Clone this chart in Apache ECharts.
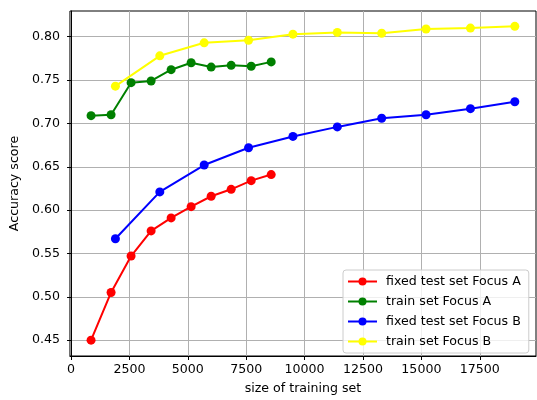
<!DOCTYPE html>
<html>
<head>
<meta charset="utf-8">
<script src="https://cdn.jsdelivr.net/npm/echarts@6/dist/echarts.min.js"></script>
<style>
  html, body { margin: 0; padding: 0; background: #fff; }
  #chart { width: 537px; height: 400px; }
</style>
</head>
<body>
<div id="chart"></div>
<script>
// training set sizes
const sizesA = [857, 1714, 2571, 3428, 4285, 5142, 5999, 6856, 7713, 8570];
const sizesB = [1900, 3800, 5700, 7600, 9500, 11400, 13300, 15200, 17100, 19000];

// accuracy scores
const fixedTestA = [0.450, 0.505, 0.547, 0.576, 0.591, 0.604, 0.616, 0.624, 0.634, 0.641];
const trainA = [0.709, 0.710, 0.747, 0.749, 0.762, 0.770, 0.765, 0.767, 0.766, 0.771];
const fixedTestB = [0.567, 0.621, 0.652, 0.672, 0.685, 0.696, 0.706, 0.710, 0.717, 0.725];
const trainB = [0.743, 0.778, 0.793, 0.796, 0.803, 0.805, 0.804, 0.809, 0.810, 0.812];

const xTicks = [0, 2500, 5000, 7500, 10000, 12500, 15000, 17500];
const yTicks = [0.45, 0.50, 0.55, 0.60, 0.65, 0.70, 0.75, 0.80];

const FONT = 'DejaVu Sans';
const FS = 12.6;

const pairs = (xs, ys) => xs.map((x, i) => [x, ys[i]]);

const makeSeries = (name, xs, ys, color) => ({
  name,
  type: 'line',
  data: pairs(xs, ys),
  symbol: 'circle',
  symbolSize: 9,
  showSymbol: true,
  itemStyle: { color },
  lineStyle: { color, width: 2 },
  emphasis: { disabled: true },
  z: 3,
});

const chart = echarts.init(document.getElementById('chart'));

chart.setOption({
  backgroundColor: '#fff',
  animation: false,
  grid: {
    left: 68, top: 11, right: 1, bottom: 40,
    show: true, borderColor: '#000', borderWidth: 1,
    containLabel: false,
  },
  xAxis: {
    type: 'value',
    min: -47,
    max: 19907,
    name: 'size of training set',
    nameLocation: 'middle',
    nameGap: 26,
    nameTextStyle: { fontFamily: FONT, fontSize: FS, color: '#000' },
    axisLine: { show: true, lineStyle: { color: '#000', width: 1 } },
    axisTick: { show: true, customValues: xTicks, length: 4, lineStyle: { color: '#000' } },
    axisLabel: {
      customValues: xTicks,
      formatter: (v) => String(v),
      fontFamily: FONT,
      fontSize: FS,
      color: '#000',
      margin: 7,
    },
    splitLine: { show: true, lineStyle: { color: '#b0b0b0', width: 1 } },
  },
  yAxis: {
    type: 'value',
    min: 0.4317,
    max: 0.8297,
    name: 'Accuracy score',
    nameLocation: 'middle',
    nameGap: 48,
    nameTextStyle: { fontFamily: FONT, fontSize: FS, color: '#000' },
    axisLine: { show: true, lineStyle: { color: '#000', width: 1 } },
    axisTick: { show: true, customValues: yTicks, length: 4, lineStyle: { color: '#000' } },
    axisLabel: {
      customValues: yTicks,
      formatter: (v) => v.toFixed(2),
      fontFamily: FONT,
      fontSize: FS,
      color: '#000',
      margin: 10,
    },
    splitLine: { show: true, lineStyle: { color: '#b0b0b0', width: 1 } },
  },
  legend: {
    orient: 'vertical',
    left: 343,
    top: 270,
    padding: [5, 8, 5, 4],
    itemGap: 7,
    itemWidth: 29,
    itemHeight: 10,
    backgroundColor: 'rgba(255,255,255,0.8)',
    borderColor: '#cccccc',
    borderWidth: 1,
    borderRadius: 3,
    textStyle: { fontFamily: FONT, fontSize: FS, color: '#000', padding: [0, 0, 0, 4] },
    data: ['fixed test set Focus A', 'train set Focus A', 'fixed test set Focus B', 'train set Focus B'],
  },
  series: [
    makeSeries('fixed test set Focus A', sizesA, fixedTestA, '#ff0000'),
    makeSeries('train set Focus A', sizesA, trainA, '#008000'),
    makeSeries('fixed test set Focus B', sizesB, fixedTestB, '#0000ff'),
    makeSeries('train set Focus B', sizesB, trainB, '#ffff00'),
  ],
});
</script>
</body>
</html>
